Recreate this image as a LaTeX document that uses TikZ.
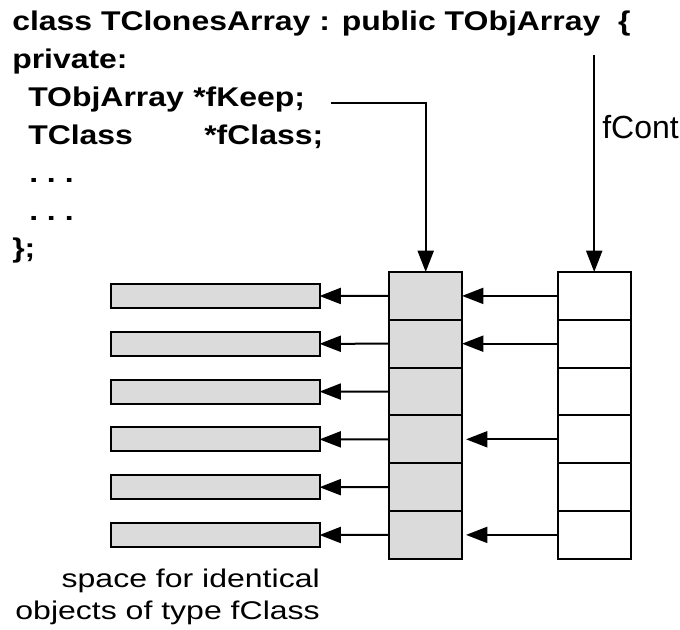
\documentclass[tikz,border=0pt]{standalone}
\usepackage{graphicx}
\usepackage{fontspec}
\setmainfont{Liberation Sans}
\usetikzlibrary{arrows.meta}
\newcommand\sx[1]{\scalebox{1.18}[1]{#1}}
\begin{document}
\begin{tikzpicture}[x=0.75pt,y=-0.75pt,
  code/.style={anchor=base west, inner sep=0pt, font=\fontsize{20.3}{24}\selectfont\bfseries},
  capt/.style={anchor=base east, inner sep=0pt, font=\fontsize{19.2}{23}\selectfont},
  cellg/.style={draw, line width=1.5pt, fill=black!14, minimum width=54.5pt, minimum height=35.85pt, inner sep=0pt, outer sep=0pt},
  cellw/.style={draw, line width=1.5pt, fill=white, minimum width=54.75pt, minimum height=35.85pt, inner sep=0pt, outer sep=0pt},
  objbox/.style={draw, line width=1.5pt, fill=black!14, minimum width=156.6pt, minimum height=18pt, inner sep=0pt, outer sep=0pt},
  arr/.style={line width=1.5pt, -{Triangle[length=16pt,width=12pt]}}]
\useasboundingbox (0,0) rectangle (680,630);

% code text
\node[code] (l1) at (12,31) {\sx{class TClonesArray : public TObjArray\ \ \{}};
\node[code] (l2) at (12,69) {\sx{private:}};
\node[code] (l3a) at (28,107) {\sx{TObjArray}};
\node[code] (l3b) at (193,107) {\sx{*fKeep;}};
\node[code] (l4a) at (28,145) {\sx{TClass}};
\node[code] (l4b) at (204,145) {\sx{*fClass;}};
\node[code] (l5) at (29,183) {\sx{.\ .\ .}};
\node[code] (l6) at (29,221) {\sx{.\ .\ .}};
\node[code] (l7) at (12,258) {\sx{\};}};

% columns and object boxes
\foreach \i in {1,...,6} {
  \node[cellg] (m\i) at (425.7, {272+47.8*(\i-0.5)}) {};
  \node[cellw] (r\i) at (594.2, {272+47.8*(\i-0.5)}) {};
  \node[objbox] (g\i) at (215.1, {296+47.8*(\i-1)}) {};
}

% arrows to objects
\foreach \i in {1,...,6} {
  \draw[arr] (m\i.west) -- (g\i.east);
}
\foreach \i in {1,2} {
  \draw[arr] (r\i.west) -- (m\i.east);
}
\foreach \i in {4,6} {
  \draw[arr, shorten >=3pt] (r\i.west) -- (m\i.east);
}

% pointers from the class
\coordinate (k0) at (331,103);
\draw[arr] (k0) -| (m1.north);
\coordinate (c0) at (594.2,55);
\draw[arr] (c0) -- (r1.north);
\node[anchor=base west, inner sep=0pt, font=\fontsize{24}{28}\selectfont] (fc) at (602,139) {fCont};

% caption
\node[capt] (cap1) at (320,587) {\sx{\scalebox{1.06}[1]{space for identical}}};
\node[capt] (cap2) at (320,619) {\sx{\scalebox{1.06}[1]{objects of type fClass}}};
\end{tikzpicture}
\end{document}
